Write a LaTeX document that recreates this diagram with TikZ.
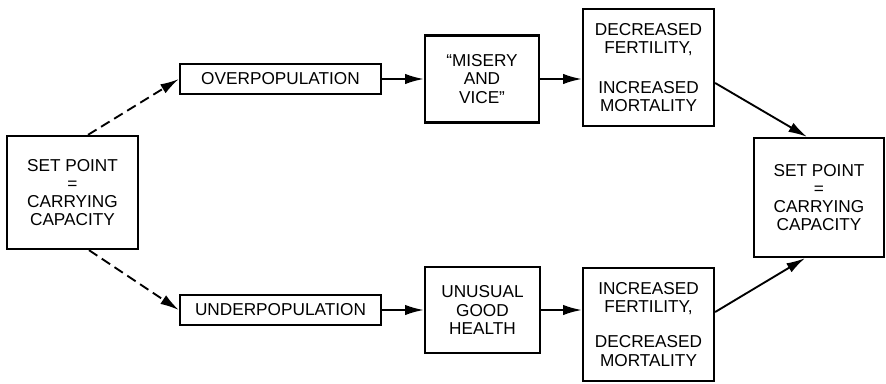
\documentclass[tikz,border=0pt]{standalone}
\usepackage{fontspec}
\setmainfont{Liberation Sans}
\usepackage{tikz}
\usetikzlibrary{
  positioning,
  calc,
  arrows.meta
}
\tikzstyle{box}=[draw, line width=2pt, align=center, inner sep=0pt,
  font=\fontsize{14.7}{15.6}\selectfont]
\tikzstyle{flow}=[-{Latex[length=5.6mm, width=3.1mm]}, line width=1.6pt]
\tikzstyle{dashflow}=[flow, dash pattern=on 3mm off 1.6mm]

\begin{document}
\begin{tikzpicture}[x=0.3mm, y=-0.3mm]
    % 図の範囲
    \useasboundingbox (0,0) rectangle (886,383);

    % 左右の平衡状態
    \node[box, minimum width=39.3mm, minimum height=33.9mm] (setL) at (72.5,192.5)
      {SET POINT\\=\\CARRYING\\CAPACITY};
    \node[box, minimum width=39mm, minimum height=35.7mm] (setR) at (819,197.5)
      {SET POINT\\=\\CARRYING\\CAPACITY};

    % 上段 (過剰)
    \node[box, minimum width=60.3mm, minimum height=9mm] (over) at (280.5,79)
      {OVERPOPULATION};
    \node[box, minimum width=34.2mm, minimum height=26.1mm] (misery) at (482,79)
      {``MISERY\\AND\\VICE''};
    \node[box, minimum width=39.3mm, minimum height=35.1mm] (decr) at (648.5,67.5)
      {DECREASED\\FERTILITY,\\[6.5mm]INCREASED\\MORTALITY};

    % 下段 (過少)
    \node[box, minimum width=60.3mm, minimum height=9mm] (under) at (280.5,310)
      {UNDERPOPULATION};
    \node[box, minimum width=34.5mm, minimum height=25.8mm] (unusual) at (482.5,310)
      {UNUSUAL\\GOOD\\HEALTH};
    \node[box, minimum width=39.3mm, minimum height=33.9mm] (incr) at (648.5,324.5)
      {INCREASED\\FERTILITY,\\[5mm]DECREASED\\MORTALITY};

    % 破線の矢印
    \draw[dashflow] ($(setL.north)+(15.5,0)$) -- (over.west);
    \draw[dashflow] ($(setL.south)+(16.5,0)$) -- (under.west);

    % 実線の矢印
    \draw[flow] (over.east) -- (misery.west);
    \draw[flow] (misery.east) -- (decr.west |- misery.east);
    \draw[flow] (under.east) -- (unusual.west);
    \draw[flow] (unusual.east) -- (incr.west |- unusual.east);
    \draw[flow] ($(decr.east)+(0,15.5)$) -- ($(setR.north)+(-12,0)$);
    \draw[flow] ($(incr.east)+(0,-12.5)$) -- ($(setR.south)+(-14,0)$);
  \end{tikzpicture}
\end{document}
